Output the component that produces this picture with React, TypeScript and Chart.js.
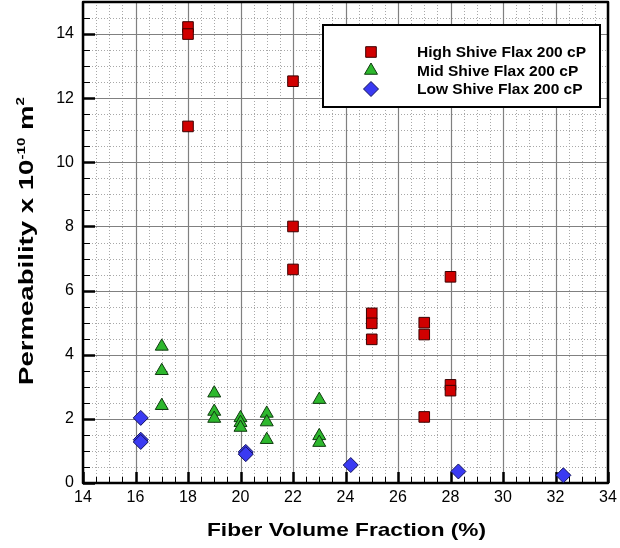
import React, { useEffect, useRef } from 'react';
import { Chart, registerables } from 'chart.js';

Chart.register(...registerables);

// ---- data ----
const highX = [18, 18, 18, 22, 22, 22, 25, 25, 25, 27, 27, 27, 28, 28, 28];
const highY = [14.22, 14.0, 11.12, 12.53, 8.0, 6.66, 5.29, 4.98, 4.48, 5.0, 4.63, 2.06, 6.43, 3.06, 2.88];
const midX = [17, 17, 17, 19, 19, 19, 20, 20, 20, 21, 21, 21, 23, 23, 23];
const midY = [4.26, 3.5, 2.41, 2.8, 2.23, 2.01, 2.03, 1.88, 1.73, 2.17, 1.9, 1.35, 2.6, 1.47, 1.26];
const lowX = [16.2, 16.2, 16.2, 20.2, 20.2, 24.2, 28.3, 32.3];
const lowY = [2.03, 1.35, 1.28, 0.97, 0.9, 0.56, 0.36, 0.24];

const seriesLabels = ['High Shive Flax 200 cP', 'Mid Shive Flax 200 cP', 'Low Shive Flax 200 cP'];
const xTicks = [14, 16, 18, 20, 22, 24, 26, 28, 30, 32, 34];
const yTicks = [0, 2, 4, 6, 8, 10, 12, 14];
const xTitle = 'Fiber Volume Fraction (%)';
const yTitleParts = ['Permeability x 10', '-10', ' m', '2'];

const FONT = '"Liberation Sans", Arial, Helvetica, sans-serif';
const styles = [
  { style: 'rect', fill: '#d10000', stroke: '#3a0000' },
  { style: 'triangle', fill: '#2db82d', stroke: '#0f3a0f' },
  { style: 'rectRot', fill: '#3a3af2', stroke: '#12125a' },
];
const MINOR = 0.5;

function toPoints(xs: number[], ys: number[]) {
  return xs.map((x, i) => ({ x, y: ys[i] }));
}

function drawMarker(ctx: CanvasRenderingContext2D, kind: string, x: number, y: number, r: number) {
  ctx.beginPath();
  if (kind === 'rect') {
    const s = Math.SQRT1_2 * r;
    ctx.rect(x - s, y - s, 2 * s, 2 * s);
  } else if (kind === 'triangle') {
    ctx.moveTo(x, y - r);
    ctx.lineTo(x + r * Math.sin((2 * Math.PI) / 3), y + r / 2);
    ctx.lineTo(x - r * Math.sin((2 * Math.PI) / 3), y + r / 2);
    ctx.closePath();
  } else {
    ctx.moveTo(x - r, y);
    ctx.lineTo(x, y - r);
    ctx.lineTo(x + r, y);
    ctx.lineTo(x, y + r);
    ctx.closePath();
  }
  ctx.fill();
  ctx.stroke();
}

const framePlugin = {
  id: 'framePlugin',
  beforeDatasetsDraw(chart: any) {
    const { ctx, chartArea: a, scales } = chart;
    const x = scales.x;
    const y = scales.y;
    ctx.save();
    // minor dotted grid
    ctx.strokeStyle = '#a8a8a8';
    ctx.lineWidth = 1;
    ctx.setLineDash([1, 2]);
    for (let v = x.min; v <= x.max + 1e-9; v += MINOR) {
      if (Math.abs(v % 2) < 1e-9) continue;
      const px = Math.round(x.getPixelForValue(v)) + 0.5;
      ctx.beginPath(); ctx.moveTo(px, a.top); ctx.lineTo(px, a.bottom); ctx.stroke();
    }
    for (let v = y.min; v <= y.max + 1e-9; v += MINOR) {
      if (Math.abs(v % 2) < 1e-9) continue;
      const py = Math.round(y.getPixelForValue(v)) + 0.5;
      ctx.beginPath(); ctx.moveTo(a.left, py); ctx.lineTo(a.right, py); ctx.stroke();
    }
    // major grid
    ctx.setLineDash([]);
    ctx.strokeStyle = '#808080';
    ctx.lineWidth = 1.2;
    xTicks.forEach((v) => {
      const px = Math.round(x.getPixelForValue(v)) + 0.5;
      ctx.beginPath(); ctx.moveTo(px, a.top); ctx.lineTo(px, a.bottom); ctx.stroke();
    });
    yTicks.forEach((v) => {
      const py = Math.round(y.getPixelForValue(v)) + 0.5;
      ctx.beginPath(); ctx.moveTo(a.left, py); ctx.lineTo(a.right, py); ctx.stroke();
    });
    // minor ticks
    ctx.strokeStyle = '#000';
    ctx.lineWidth = 1;
    for (let v = x.min; v <= x.max + 1e-9; v += MINOR) {
      const px = Math.round(x.getPixelForValue(v)) + 0.5;
      ctx.beginPath(); ctx.moveTo(px, a.bottom); ctx.lineTo(px, a.bottom - 6); ctx.stroke();
    }
    for (let v = y.min; v <= y.max + 1e-9; v += MINOR) {
      const py = Math.round(y.getPixelForValue(v)) + 0.5;
      ctx.beginPath(); ctx.moveTo(a.left, py); ctx.lineTo(a.left + 7, py); ctx.stroke();
    }
    // major ticks
    ctx.lineWidth = 2.5;
    xTicks.forEach((v) => {
      const px = Math.round(x.getPixelForValue(v)) + 0.5;
      ctx.beginPath(); ctx.moveTo(px, a.bottom); ctx.lineTo(px, a.bottom - 11); ctx.stroke();
    });
    yTicks.forEach((v) => {
      const py = Math.round(y.getPixelForValue(v)) + 0.5;
      ctx.beginPath(); ctx.moveTo(a.left, py); ctx.lineTo(a.left + 12, py); ctx.stroke();
    });
    // frame
    ctx.lineWidth = 2.5;
    ctx.lineJoin = 'round';
    ctx.strokeRect(a.left, a.top, a.right - a.left, a.bottom - a.top);
    ctx.restore();
  },
  afterDraw(chart: any) {
    const { ctx } = chart;
    ctx.save();
    // legend box
    const bx = 323, by = 25, bw = 277, bh = 82;
    ctx.fillStyle = '#fff';
    ctx.fillRect(bx, by, bw, bh);
    ctx.strokeStyle = '#000';
    ctx.lineWidth = 2;
    ctx.strokeRect(bx, by, bw, bh);
    const rows = [52, 70.5, 89];
    ctx.font = `bold 14px ${FONT}`;
    const w0 = ctx.measureText(seriesLabels[0]).width;
    const sx = 169 / w0;
    seriesLabels.forEach((lab, i) => {
      ctx.fillStyle = styles[i].fill;
      ctx.strokeStyle = styles[i].stroke;
      ctx.lineWidth = 1;
      drawMarker(ctx, styles[i].style, 371, rows[i], 7.5);
      ctx.save();
      ctx.translate(417, rows[i] + 5);
      ctx.scale(sx, 1);
      ctx.fillStyle = '#000';
      ctx.textBaseline = 'alphabetic';
      ctx.textAlign = 'left';
      ctx.fillText(lab, 0, 0);
      ctx.restore();
    });
    // x title
    ctx.font = `bold 19px ${FONT}`;
    const wx = ctx.measureText(xTitle).width;
    ctx.save();
    ctx.translate(346.5, 536);
    ctx.scale(279 / wx, 1);
    ctx.fillStyle = '#000';
    ctx.textAlign = 'center';
    ctx.textBaseline = 'alphabetic';
    ctx.fillText(xTitle, 0, 0);
    ctx.restore();
    // y title with superscripts
    const big = `bold 20px ${FONT}`;
    const small = `bold 11px ${FONT}`;
    const fonts = [big, small, big, small];
    const dys = [0, -8, 0, -9];
    const widths = yTitleParts.map((t, i) => { ctx.font = fonts[i]; return ctx.measureText(t).width; });
    const W = widths.reduce((s, v) => s + v, 0);
    ctx.save();
    ctx.translate(26, 241);
    ctx.rotate(-Math.PI / 2);
    ctx.scale(288 / W, 1);
    ctx.fillStyle = '#000';
    ctx.textBaseline = 'alphabetic';
    ctx.textAlign = 'left';
    let cx = -W / 2;
    yTitleParts.forEach((t, i) => {
      ctx.font = fonts[i];
      ctx.fillText(t, cx, 7 + dys[i]);
      cx += widths[i];
    });
    ctx.restore();
    ctx.restore();
  },
};

export default function App() {
  const ref = useRef<HTMLCanvasElement>(null);
  useEffect(() => {
    const datasets = [
      toPoints(highX, highY),
      toPoints(midX, midY),
      toPoints(lowX, lowY),
    ].map((data, i) => ({
      label: seriesLabels[i],
      data,
      pointStyle: styles[i].style,
      pointRadius: 7.5,
      pointBackgroundColor: styles[i].fill,
      pointBorderColor: styles[i].stroke,
      pointBorderWidth: 1,
      backgroundColor: styles[i].fill,
      borderColor: styles[i].stroke,
      showLine: false,
      clip: false,
    }));
    const chart = new Chart(ref.current as HTMLCanvasElement, {
      type: 'scatter',
      data: { datasets } as any,
      options: {
        animation: false,
        responsive: false,
        devicePixelRatio: 1,
        events: [],
        layout: { autoPadding: false, padding: { left: 0, right: 12, top: 2, bottom: 0 } },
        plugins: { legend: { display: false }, tooltip: { enabled: false }, title: { display: false } },
        scales: {
          x: {
            type: 'linear',
            min: 14,
            max: 34,
            grid: { display: false, drawTicks: false },
            border: { display: false },
            afterFit: (s: any) => { s.height = 65; s.paddingLeft = 0; s.paddingRight = 0; },
            afterBuildTicks: (s: any) => { s.ticks = xTicks.map((v) => ({ value: v })); },
            ticks: {
              color: '#000',
              padding: 5,
              maxRotation: 0,
              autoSkip: false,
              font: { family: FONT, size: 16 },
              callback: (v: any) => String(v),
            },
          },
          y: {
            type: 'linear',
            min: 0,
            max: 15,
            grid: { display: false, drawTicks: false },
            border: { display: false },
            afterFit: (s: any) => { s.width = 83; s.paddingTop = 0; s.paddingBottom = 0; },
            afterBuildTicks: (s: any) => { s.ticks = yTicks.map((v) => ({ value: v })); },
            ticks: {
              color: '#000',
              padding: 9,
              autoSkip: false,
              font: { family: FONT, size: 16 },
              callback: (v: any) => String(v),
            },
          },
        },
      },
      plugins: [framePlugin],
    } as any);
    return () => chart.destroy();
  }, []);
  return (
    <div style={{ position: 'absolute', left: 0, top: 0, width: 620, height: 548, background: '#fff' }}>
      <canvas ref={ref} width={620} height={548} style={{ display: 'block', width: 620, height: 548 }} />
    </div>
  );
}
